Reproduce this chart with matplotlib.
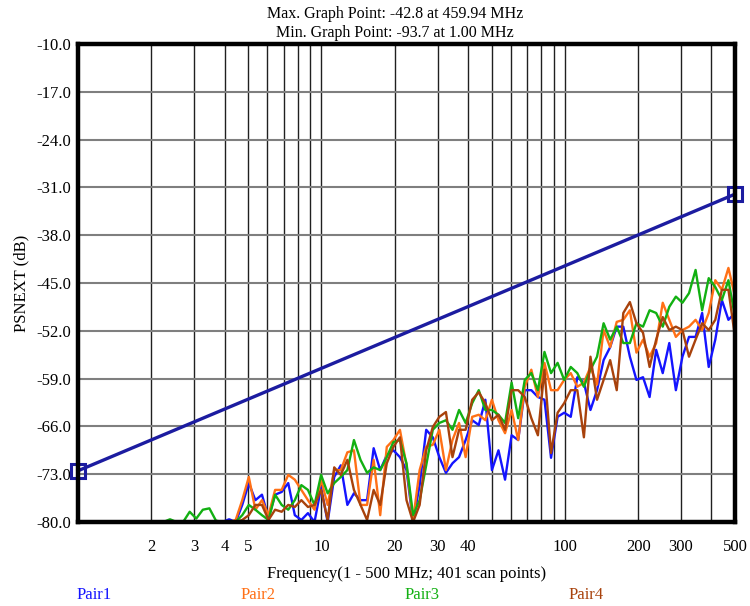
import numpy as np
import matplotlib
matplotlib.use("Agg")
import matplotlib.pyplot as plt

plt.rcParams['font.family'] = ['Liberation Serif', 'DejaVu Serif']

# scan settings: 1 - 500 MHz, log spaced (every 4th of the 401 scan points)
f_start, f_stop, n_points = 1.0, 500.0, 101
freq = np.geomspace(f_start, f_stop, n_points)

# PSNEXT limit line (dB)
limit_freq = [1, 10, 100, 500]
limit_db = [-72.5, -57.5, -42.5, -32.0]

pair1 = [-80] * 23 + [
    -79.6, -80, -77.5, -74.3, -76.8, -76.0, -79.4, -76.0, -75.6, -74.3,
    -79.0, -79.7, -78.7, -80, -74.9, -80, -73.4, -71.7, -77.5, -75.8,
    -76.8, -76.8, -69.2, -72.4, -70.2, -69.5, -70.5, -72.4, -80, -74.6,
    -66.5, -67.6, -70.5, -72.8, -71.4, -70.5, -68.0, -65.1, -65.8, -62.1,
    -72.4, -69.5, -73.8, -67.3, -68.0, -60.7, -60.7, -61.7, -62.1, -70.6,
    -64.6, -64.0, -64.6, -58.8, -59.6, -63.6, -60.7, -56.3, -54.4, -51.4,
    -51.4, -55.8, -59.2, -58.8, -61.7, -54.8, -58.2, -53.8, -60.7, -55.8,
    -52.9, -52.9, -49.4, -57.3, -53.3, -47.5, -50.4, -49.4]

pair2 = [-80] * 24 + [
    -79.7, -76.8, -73.4, -78.2, -76.8, -79.0, -75.3, -75.3, -73.1, -73.8,
    -75.3, -76.8, -78.2, -73.8, -77.5, -72.4, -72.4, -69.8, -69.5, -77.5,
    -77.5, -70.9, -79.0, -69.0, -68.0, -66.5, -71.7, -79.7, -72.4, -69.0,
    -68.7, -66.5, -72.4, -68.0, -65.5, -70.5, -64.6, -64.3, -65.1, -62.1,
    -65.1, -67.0, -63.6, -68.0, -60.2, -57.7, -61.7, -56.7, -60.7, -60.7,
    -59.2, -58.2, -60.2, -59.6, -57.3, -59.9, -51.9, -54.4, -50.7, -50.4,
    -49.0, -55.2, -53.3, -55.8, -53.8, -47.9, -50.4, -52.9, -51.9, -51.4,
    -50.4, -51.9, -49.4, -44.6, -46.0, -42.8, -47.0]

pair3 = [-80] * 14 + [
    -79.6, -80, -80, -78.5, -79.5, -78.2, -78.0, -79.8, -80, -80,
    -80, -79.0, -77.5, -78.2, -79.0, -79.7, -76.0, -77.5, -78.2, -76.8,
    -74.6, -75.3, -77.5, -73.1, -75.8, -74.3, -73.4, -72.4, -68.0, -70.9,
    -72.8, -72.0, -72.4, -70.5, -68.3, -68.0, -71.4, -79.0, -76.8, -71.7,
    -66.5, -65.5, -65.1, -66.5, -63.6, -65.5, -62.6, -60.7, -63.6, -63.6,
    -64.3, -65.5, -59.6, -64.8, -59.2, -58.2, -60.7, -55.1, -58.2, -56.7,
    -59.2, -57.3, -58.2, -60.2, -57.7, -55.8, -50.9, -53.3, -51.4, -53.8,
    -53.8, -50.9, -51.4, -49.0, -49.4, -51.4, -48.5, -47.0, -47.9, -46.5,
    -43.1, -49.0, -44.3, -45.6, -47.5, -44.6, -50.0]

pair4 = [-80] * 25 + [
    -79.7, -79.0, -77.5, -77.5, -79.7, -78.2, -78.5, -77.5, -77.8, -76.8,
    -77.8, -77.5, -75.3, -79.7, -72.0, -73.1, -70.9, -75.3, -77.5, -79.7,
    -75.3, -77.5, -71.4, -69.0, -67.6, -76.8, -80, -77.5, -69.5, -66.1,
    -64.6, -63.9, -70.5, -66.5, -66.5, -62.1, -61.0, -62.6, -65.1, -64.3,
    -66.5, -60.7, -60.7, -61.7, -64.8, -67.3, -57.7, -69.9, -64.0, -62.6,
    -60.7, -60.7, -67.6, -55.8, -62.1, -59.2, -56.3, -60.7, -49.4, -47.8,
    -50.9, -52.3, -57.3, -53.3, -50.0, -51.9, -51.4, -51.9, -55.8, -53.3,
    -50.9, -51.9, -50.4, -46.0, -46.0, -52.9]

pair_names = ['Pair1', 'Pair2', 'Pair3', 'Pair4']
pair_colors = ['#1414ff', '#ff7016', '#12b012', '#a8420c']

y_ticks = np.arange(-80, -9, 7)
x_major = [2, 3, 4, 5, 10, 20, 30, 40, 100, 200, 300, 500]
x_minor = [6, 7, 8, 9, 50, 60, 70, 80, 90, 400]

fig = plt.figure(figsize=(7.5, 6.06), dpi=100)
ax = fig.add_axes([0.104, 0.1386, 0.876, 0.789])

for vals, col, name in zip([pair1, pair2, pair3, pair4], pair_colors, pair_names):
    ax.plot(freq, vals, color=col, lw=1.7, zorder=3, label=name)

ax.plot(limit_freq, limit_db, color='#1c1ca0', lw=2.4, zorder=4,
        marker='s', markevery=[0, len(limit_freq) - 1], markersize=10,
        markerfacecolor='none', markeredgecolor='#1c1ca0', markeredgewidth=2.2,
        clip_on=False)

ax.set_xscale('log')
ax.set_xlim(f_start, f_stop)
ax.set_ylim(-80, -10)
ax.set_yticks(y_ticks)
ax.set_yticklabels([f'{v:.1f}' for v in y_ticks])
ax.set_xticks(x_major)
ax.set_xticklabels([str(v) for v in x_major])
ax.set_xticks(x_minor, minor=True)
ax.tick_params(axis='both', which='both', length=0, labelsize=12)
ax.tick_params(axis='x', pad=12)
ax.tick_params(axis='y', pad=5)

ax.grid(True, axis='y', color='#7f7f7f', lw=1.5, zorder=1)
ax.grid(True, axis='x', which='both', color='#202020', lw=1.0, zorder=1)
ax.set_axisbelow(True)

for sp in ax.spines.values():
    sp.set_linewidth(3.2)
    sp.set_color('black')
    sp.set_zorder(5)

ax.set_ylabel('PSNEXT (dB)', fontsize=12, labelpad=5)
ax.set_xlabel('Frequency(1 - 500 MHz; 401 scan points)', fontsize=12, labelpad=8)

fig.text(395 / 750, 1 - 14 / 606, 'Max. Graph Point: -42.8 at 459.94 MHz',
         ha='center', va='center', fontsize=11.5)
fig.text(395 / 750, 1 - 33 / 606, 'Min. Graph Point: -93.7 at 1.00 MHz',
         ha='center', va='center', fontsize=11.5)

for k, (name, col) in enumerate(zip(pair_names, pair_colors)):
    fig.text((77 + 164 * k) / 750, 1 - 595 / 606, name, color=col,
             ha='left', va='center', fontsize=12)

fig.savefig('out.png', dpi=100)
